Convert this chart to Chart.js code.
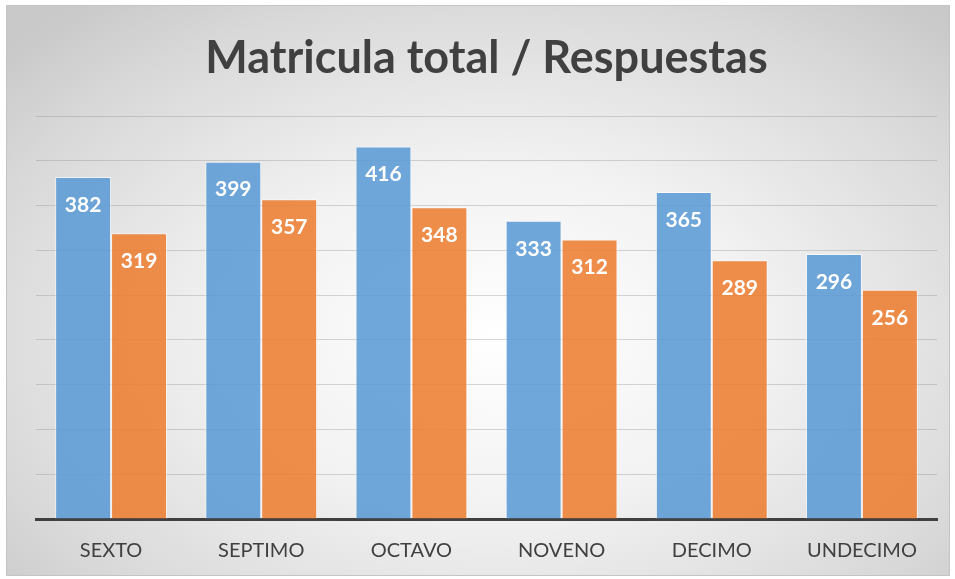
<!DOCTYPE html>
<html>
<head>
<meta charset="utf-8">
<script src="https://cdn.jsdelivr.net/npm/chart.js@4"></script>
<style>
  body { margin: 0; background: #fff; }
  #frame {
    position: absolute; left: 6px; top: 5px;
    width: 942px; height: 569px;
    border: 1px solid #c4c4c4;
    background: radial-gradient(ellipse 70% 75% at 52% 58%, #ffffff 0%, #f2f2f2 40%, #d9d9d9 80%, #c9c9c9 100%);
  }
  canvas { display: block; }
</style>
</head>
<body>
<div id="frame"><canvas id="chartCanvas" width="942" height="569"></canvas></div>
<script>
//data
const grades = ["SEXTO", "SEPTIMO", "OCTAVO", "NOVENO", "DECIMO", "UNDECIMO"];
const enrolled = [382, 399, 416, 333, 365, 296];
const answers = [319, 357, 348, 312, 289, 256];

//labels inside the top of each bar
const barLabels = {
  id: "barLabels",
  afterDatasetsDraw(chart) {
    const ctx = chart.ctx;
    ctx.save();
    ctx.font = "bold 21px Lato";
    ctx.fillStyle = "#ffffff";
    ctx.textAlign = "center";
    ctx.textBaseline = "middle";
    chart.data.datasets.forEach((ds, i) => {
      chart.getDatasetMeta(i).data.forEach((bar, j) => {
        ctx.fillText(String(ds.data[j]), bar.x, bar.y + 28);
      });
    });
    ctx.restore();
  },
};

const chart = new Chart(document.getElementById("chartCanvas"), {
  type: "bar",
  data: {
    labels: grades,
    datasets: [
      {
        label: "Matricula total",
        data: enrolled,
        backgroundColor: "rgba(91,155,213,0.88)",
        borderColor: "rgba(255,255,255,0.6)",
        borderWidth: 1,
      },
      {
        label: "Respuestas",
        data: answers,
        backgroundColor: "rgba(237,125,49,0.88)",
        borderColor: "rgba(255,255,255,0.6)",
        borderWidth: 1,
      },
    ],
  },
  options: {
    responsive: false,
    animation: false,
    layout: { padding: { left: 29, right: 12, top: 10, bottom: 0 } },
    datasets: { bar: { categoryPercentage: 0.745, barPercentage: 1.0 } },
    plugins: {
      legend: { display: false },
      tooltip: { enabled: false },
      title: {
        display: true,
        text: "Matricula total / Respuestas",
        color: "#404040",
        font: { family: "Lato", size: 45, weight: "bold" },
        padding: { top: 15, bottom: 31 },
      },
    },
    scales: {
      x: {
        grid: { display: false },
        border: { display: true, color: "#404040", width: 3 },
        ticks: {
          color: "#404040",
          font: { family: "Lato", size: 20 },
          padding: 12,
          maxRotation: 0,
        },
        afterFit(axis) {
          axis.height = 56;
        },
      },
      y: {
        min: 0,
        max: 450,
        ticks: { display: false, stepSize: 50 },
        border: { display: false },
        grid: { color: "rgba(140,140,140,0.35)", lineWidth: 1, drawTicks: false },
      },
    },
  },
  plugins: [barLabels],
});
</script>
</body>
</html>
